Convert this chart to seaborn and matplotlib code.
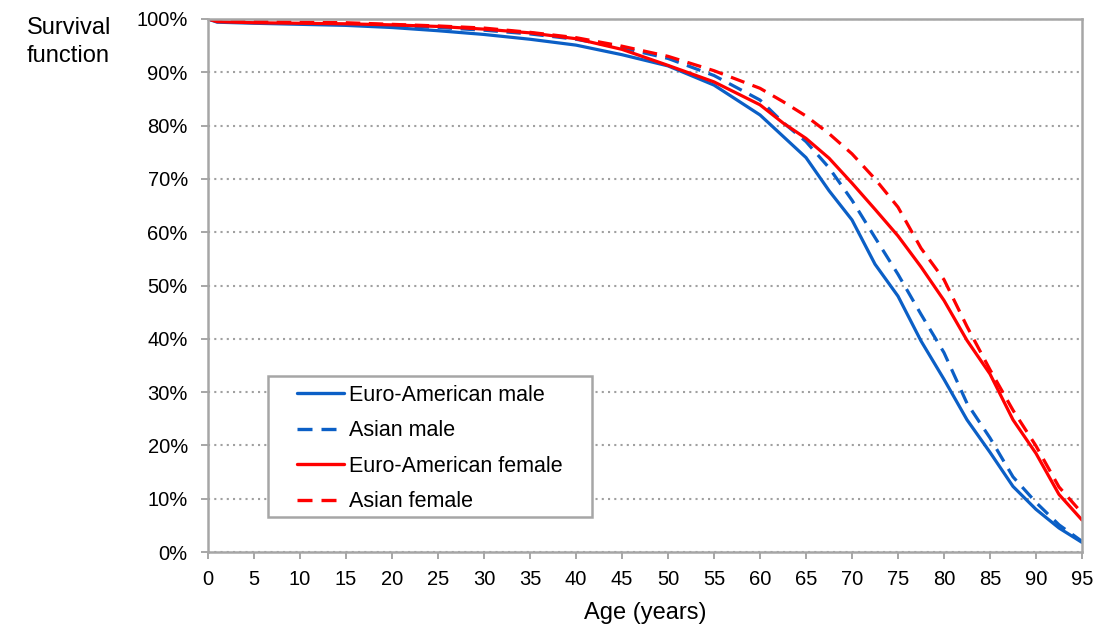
import matplotlib
matplotlib.use("Agg")
import matplotlib.pyplot as plt
import seaborn as sns
import pandas as pd
from matplotlib.patches import Rectangle
from matplotlib.ticker import PercentFormatter

# Age grid (years) at which survival is tabulated
ages = [0, 1, 5, 10, 15, 20, 25, 30, 35, 40, 45, 50, 55, 60, 62.5, 65, 67.5,
        70, 72.5, 75, 77.5, 80, 82.5, 85, 87.5, 90, 92.5, 95]

# Survival (%) by group
euro_male = [100, 99.4, 99.2, 99.0, 98.8, 98.4, 97.8, 97.1, 96.2, 95.1, 93.3,
             91.2, 87.6, 82.0, 78.0, 74.0, 67.8, 62.3, 54.0, 48.0, 39.6, 32.4,
             24.8, 18.7, 12.3, 8.0, 4.5, 1.8]
asian_male = [100, 99.6, 99.4, 99.3, 99.1, 98.8, 98.4, 97.9, 97.2, 96.2, 94.6,
              92.6, 89.4, 84.8, 80.6, 77.0, 72.1, 66.0, 59.0, 52.1, 44.6, 37.4,
              27.9, 21.4, 14.1, 9.3, 5.1, 2.0]
euro_female = [100, 99.5, 99.3, 99.2, 99.1, 98.9, 98.6, 98.1, 97.4, 96.3, 94.3,
               91.3, 88.2, 83.9, 80.5, 77.6, 73.9, 69.2, 64.3, 59.3, 53.5, 47.2,
               39.7, 33.4, 24.8, 18.5, 10.8, 6.0]
asian_female = [100, 99.7, 99.5, 99.4, 99.3, 99.0, 98.7, 98.3, 97.5, 96.5, 94.9,
                93.0, 90.3, 87.0, 84.5, 81.8, 78.5, 74.7, 70.0, 64.7, 57.0, 51.1,
                42.3, 34.2, 26.6, 19.9, 12.2, 7.3]

groups = ["Euro-American male", "Asian male", "Euro-American female", "Asian female"]
series = [euro_male, asian_male, euro_female, asian_female]

x_ticks = list(range(0, 96, 5))
y_ticks = [i / 100 for i in range(0, 101, 10)]

frames = [pd.DataFrame({"Age": ages, "Survival": [v / 100 for v in vals], "Group": g})
          for g, vals in zip(groups, series)]
df = pd.concat(frames, ignore_index=True)

sns.set_theme(style="white")
plt.rcParams["font.family"] = ["Liberation Sans", "DejaVu Sans"]
plt.rcParams["text.color"] = "black"
plt.rcParams["axes.labelcolor"] = "black"

W, H = 1114, 629
BLUE = "#0b5fc6"
RED = "#ff0000"
GRAY = "#a6a6a6"
DASH = (4.5, 2.7)
palette = {groups[0]: BLUE, groups[1]: BLUE, groups[2]: RED, groups[3]: RED}
dash_map = {groups[0]: "", groups[1]: DASH, groups[2]: "", groups[3]: DASH}

fig = plt.figure(figsize=(W / 100, H / 100), dpi=100)
ax = fig.add_axes([208 / W, 1 - 552 / H, (1082 - 208) / W, (552 - 19) / H])

sns.lineplot(data=df, x="Age", y="Survival", hue="Group", style="Group",
             hue_order=groups, style_order=groups, palette=palette,
             dashes=dash_map, linewidth=2.3, ax=ax)

ax.set_xlim(0, 95)
ax.set_ylim(0, 1)
ax.set_xticks(x_ticks)
ax.set_yticks(y_ticks)
ax.yaxis.set_major_formatter(PercentFormatter(1.0, decimals=0))

ax.yaxis.grid(True, linestyle=(0, (1, 2)), color="#a0a0a0", linewidth=1.5)
ax.xaxis.grid(False)
ax.set_axisbelow(True)
for side in ["left", "right", "top", "bottom"]:
    ax.spines[side].set_visible(True)
    ax.spines[side].set_color(GRAY)
    ax.spines[side].set_linewidth(1.8)

ax.tick_params(axis="both", which="major", labelsize=14.5, labelcolor="black",
               direction="out", length=5, width=1.4, color=GRAY)
ax.tick_params(axis="y", left=True, pad=9.5)
ax.tick_params(axis="x", bottom=True, pad=8)

ax.set_xlabel("Age (years)", fontsize=17, labelpad=9, color="black")
ax.set_ylabel("")
fig.text(27 / W, 1 - 17 / H, "Survival\nfunction", fontsize=17, color="black",
         ha="left", va="top", linespacing=1.38)

# legend entries without frame, boxed by a separate white rectangle
leg = ax.legend(loc="center left", bbox_to_anchor=(297 / W, 1 - 448.5 / H),
                bbox_transform=fig.transFigure, fontsize=15.5, frameon=False,
                handlelength=2.17, handletextpad=0.25, borderpad=0,
                labelspacing=0.68, borderaxespad=0)
for h in leg.get_lines():
    h.set_linewidth(2.4)
for t in leg.get_texts():
    t.set_color("black")
box = Rectangle((268 / W, 1 - 517 / H), (592 - 268) / W, (517 - 376) / H,
                transform=fig.transFigure, facecolor="white",
                edgecolor=GRAY, linewidth=1.8, zorder=4)
ax.add_artist(box)
leg.set_zorder(6)

fig.savefig("out.png", dpi=100)
